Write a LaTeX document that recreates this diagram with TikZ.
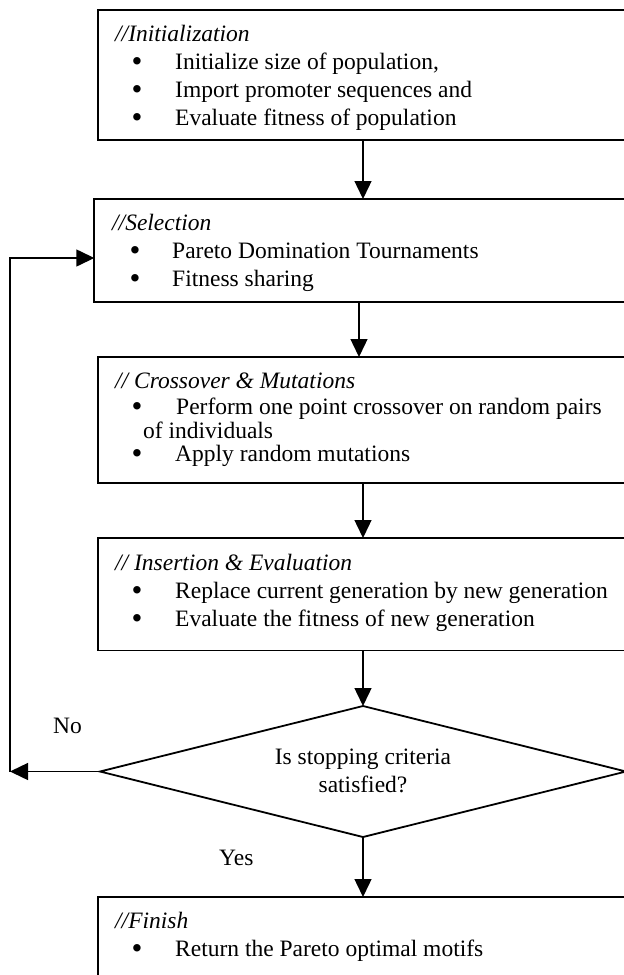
\documentclass[tikz,border=0pt]{standalone}
\usepackage{fontspec}
\setmainfont{Liberation Serif}
\usetikzlibrary{arrows.meta,shapes.geometric}
\begin{document}
\begin{tikzpicture}[x=1pt,y=-1pt,
  box/.style={draw, line width=1.8pt, rectangle, inner sep=0pt, outer sep=0pt, anchor=north west, minimum width=560pt},
  txt/.style={anchor=base west, inner sep=0pt, font=\fontsize{23.5}{28}\selectfont},
  ttl/.style={anchor=base west, inner sep=0pt, font=\fontsize{23.5}{28}\selectfont\itshape},
  bul/.style={anchor=base, inner sep=0pt, yshift=-2pt, font=\fontsize{31}{28}\selectfont},
  ctr/.style={anchor=base, inner sep=0pt, font=\fontsize{23.5}{28}\selectfont},
  arr/.style={line width=1.4pt, -{Triangle[width=17pt,length=18pt]}},
  dia/.style={draw, diamond, line width=1.8pt, inner sep=0pt, outer sep=0pt, minimum width=526pt, minimum height=131pt}
]
\useasboundingbox (0,0) rectangle (624,975);
\clip (0,0) rectangle (624,975);

% boxes
\node[box, minimum height=130pt] (init) at (97.7,10) {};
\node[box, minimum height=103pt] (sel) at (94.3,199) {};
\node[box, minimum height=126pt] (cross) at (98,357) {};
\node[box, minimum height=112.5pt] (ins) at (98,538) {};
\node[box, minimum height=110pt] (fin) at (98,897) {};
\node[dia] (dec) at (363,771.5) {};

% Initialization
\node[ttl] (t1) at (115,41) {//Initialization};
\node[bul] (b1a) at (137,69) {•};
\node[txt] (l1a) at (175,69) {Initialize size of population,};
\node[bul] (b1b) at (137,97) {•};
\node[txt] (l1b) at (175,97) {Import promoter sequences and};
\node[bul] (b1c) at (137,125) {•};
\node[txt] (l1c) at (175,125) {Evaluate fitness of population};

% Selection
\node[ttl] (t2) at (112,230) {//Selection};
\node[bul] (b2a) at (135,258) {•};
\node[txt] (l2a) at (172,258) {Pareto Domination Tournaments};
\node[bul] (b2b) at (135,286) {•};
\node[txt] (l2b) at (172,286) {Fitness sharing};

% Crossover
\node[ttl] (t3) at (115,388) {// Crossover \& Mutations};
\node[bul] (b3a) at (137,414) {•};
\node[txt] (l3a) at (176,414) {Perform one point crossover on random pairs};
\node[txt] (l3b) at (143,438) {of individuals};
\node[bul] (b3c) at (137,461) {•};
\node[txt] (l3c) at (175,461) {Apply random mutations};

% Insertion
\node[ttl] (t4) at (115,570) {// Insertion \& Evaluation};
\node[bul] (b4a) at (137,598) {•};
\node[txt] (l4a) at (175,598) {Replace current generation by new generation};
\node[bul] (b4b) at (137,626) {•};
\node[txt] (l4b) at (175,626) {Evaluate the fitness of new generation};

% Decision text
\node[ctr] (q1) at (363,764) {Is stopping criteria};
\node[ctr] (q2) at (363,792) {satisfied?};
\node[txt] (no) at (53,733) {No};
\node[txt] (yes) at (219,865) {Yes};

% Finish
\node[ttl] (t5) at (115,928) {//Finish};
\node[bul] (b5a) at (137,956) {•};
\node[txt] (l5a) at (175,956) {Return the Pareto optimal motifs};

% connectors
\draw[arr] (init.south -| dec.north) -- (sel.north -| dec.north);
\draw[arr] ([xshift=-4pt]sel.south -| dec.north) -- ([xshift=-4pt]cross.north -| dec.north);
\draw[arr] (cross.south -| dec.north) -- (ins.north -| dec.north);
\draw[arr] (ins.south -| dec.north) -- (dec.north);
\draw[arr] (dec.south) -- (fin.north -| dec.south);
\coordinate (fb) at (10,771.5);
\draw[arr] (dec.west) -- (fb);
\draw[arr] (fb) |- ([yshift=-7.5pt]sel.west);
\end{tikzpicture}
\end{document}
